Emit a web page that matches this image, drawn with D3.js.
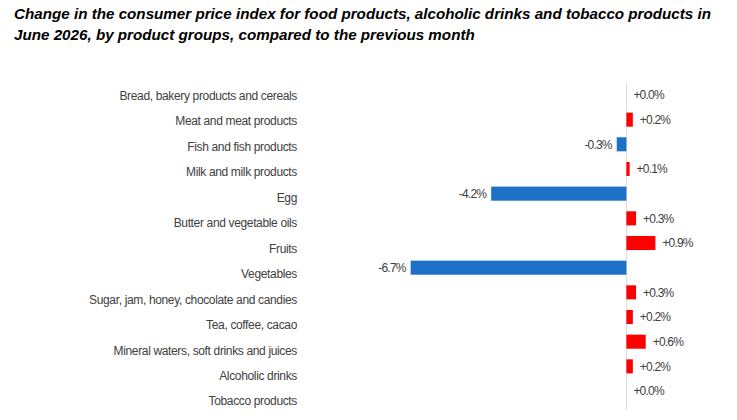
<!DOCTYPE html>
<html>
<head>
<meta charset="utf-8">
<script src="https://cdn.jsdelivr.net/npm/d3@7"></script>
<style>
	body { margin: 0; background: #fff; }
	svg { display: block; }
	.title { font-family: "Liberation Sans", Arial, sans-serif; font-size: 15.2px; font-weight: bold; font-style: italic; fill: #000; }
	.cat { font-family: "Liberation Sans", Arial, sans-serif; font-size: 12px; letter-spacing: -0.35px; fill: #404040; }
	.val { font-family: "Liberation Sans", Arial, sans-serif; font-size: 12px; letter-spacing: -0.8px; fill: #404040; }
</style>
</head>
<body>
<script>
var categories = [
	'Bread, bakery products and cereals',
	'Meat and meat products',
	'Fish and fish products',
	'Milk and milk products',
	'Egg',
	'Butter and vegetable oils',
	'Fruits',
	'Vegetables',
	'Sugar, jam, honey, chocolate and candies',
	'Tea, coffee, cacao',
	'Mineral waters, soft drinks and juices',
	'Alcoholic drinks',
	'Tobacco products'
];
var changes = [0.0, 0.2, -0.3, 0.1, -4.2, 0.3, 0.9, -6.7, 0.3, 0.2, 0.6, 0.2, 0.0];
var titleLines = [
	'Change in the consumer price index for food products, alcoholic drinks and tobacco products in',
	'June 2026, by product groups, compared to the previous month'
];

var width = 737, height = 420;
var dataset = categories.map(function(c, i) { return { name: c, value: changes[i] }; });

var svg = d3.select('body')
	.append('svg')
	.attr('width', width)
	.attr('height', height);

svg.selectAll('text.title')
	.data(titleLines)
	.enter()
	.append('text')
	.attr('class', 'title')
	.attr('x', 14)
	.attr('y', function(d, i) { return 19 + i * 21; })
	.text(function(d) { return d; });

var x = d3.scaleLinear()
	.domain([-7, 3])
	.range([401, 723]);

// bars and the category labels drift a little apart in the original
var y = d3.scaleBand()
	.domain(categories)
	.range([83, 403])
	.paddingInner(0.43)
	.paddingOuter(0.2);

var yLabel = d3.scaleBand()
	.domain(categories)
	.range([83, 414])
	.paddingOuter(0);

svg.append('line')
	.attr('x1', x(0))
	.attr('x2', x(0))
	.attr('y1', 83)
	.attr('y2', 410)
	.attr('stroke', '#d9d9d9')
	.attr('stroke-width', 1);

svg.selectAll('rect.bar')
	.data(dataset)
	.enter()
	.append('rect')
	.attr('class', 'bar')
	.attr('x', function(d) { return x(Math.min(0, d.value)); })
	.attr('y', function(d) { return y(d.name); })
	.attr('width', function(d) { return Math.abs(x(d.value) - x(0)); })
	.attr('height', y.bandwidth())
	.attr('fill', function(d) { return d.value < 0 ? '#1d72c8' : '#ff0000'; });

svg.selectAll('text.val')
	.data(dataset)
	.enter()
	.append('text')
	.attr('class', 'val')
	.attr('x', function(d) { return d.value < 0 ? x(d.value) - 5 : x(d.value) + 7; })
	.attr('y', function(d) { return y(d.name) + y.bandwidth() / 2; })
	.attr('dy', '0.35em')
	.attr('text-anchor', function(d) { return d.value < 0 ? 'end' : 'start'; })
	.text(function(d) { return (d.value < 0 ? '' : '+') + d.value.toFixed(1) + '%'; });

svg.selectAll('text.cat')
	.data(dataset)
	.enter()
	.append('text')
	.attr('class', 'cat')
	.attr('x', 297)
	.attr('y', function(d) { return yLabel(d.name) + yLabel.bandwidth() / 2; })
	.attr('dy', '0.35em')
	.attr('text-anchor', 'end')
	.text(function(d) { return d.name; });
</script>
</body>
</html>
